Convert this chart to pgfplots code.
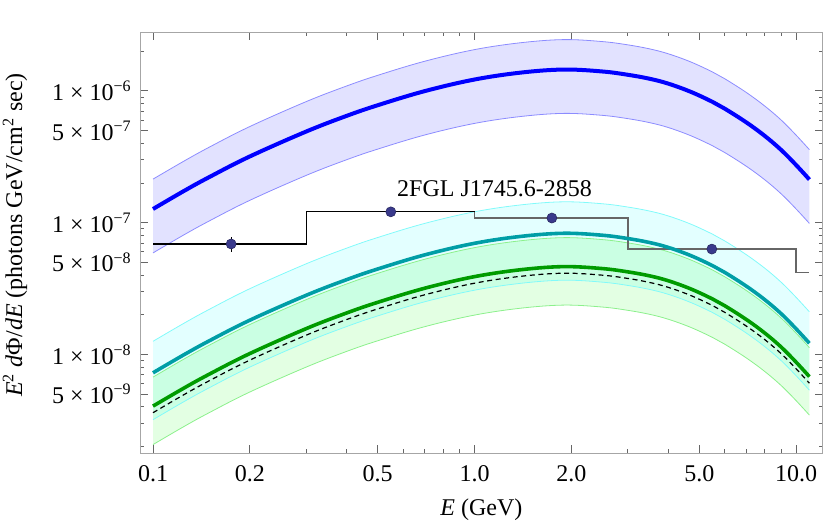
\documentclass[border=0pt]{standalone}
\usepackage{fontspec}
\setmainfont{Liberation Serif}
\usepackage{pgfplots}
\pgfplotsset{compat=1.18}
\usepackage{pgfplotstable}
\usepgfplotslibrary{fillbetween}

\definecolor{bline}{RGB}{0,0,255}
\definecolor{bedge}{RGB}{140,140,255}
\definecolor{bfill}{RGB}{226,226,255}
\definecolor{tline}{RGB}{0,158,166}
\definecolor{tedge}{RGB}{130,250,250}
\definecolor{tfill}{RGB}{0,255,255}
\definecolor{gline}{RGB}{0,155,0}
\definecolor{gedge}{RGB}{140,240,140}
\definecolor{gfill}{RGB}{0,255,0}
\definecolor{ptcol}{RGB}{58,58,140}

% E, then central/upper/lower for the blue, teal and green bands, and the dashed curve
\pgfplotstableread{
x     bc        bu        bl        tc        tu        tl        gc        gu        gl        dd
0.1   1.271e-7  2.143e-7  5.901e-8  7.261e-9  1.259e-8  3.199e-9  4.055e-9  6.730e-9  2.070e-9  3.614e-9
0.125 1.746e-7  2.942e-7  8.110e-8  9.977e-9  1.730e-8  4.395e-9  5.572e-9  9.247e-9  2.845e-9  4.966e-9
0.15  2.228e-7  3.759e-7  1.035e-7  1.274e-8  2.208e-8  5.610e-9  7.112e-9  1.180e-8  3.631e-9  6.338e-9
0.2   3.184e-7  5.370e-7  1.479e-7  1.820e-8  3.156e-8  8.018e-9  1.016e-8  1.687e-8  5.188e-9  9.058e-9
0.3   4.931e-7  8.318e-7  2.291e-7  2.818e-8  4.886e-8  1.242e-8  1.574e-8  2.612e-8  8.035e-9  1.403e-8
0.4   6.472e-7  1.091e-6  3.007e-7  3.698e-8  6.412e-8  1.629e-8  2.065e-8  3.428e-8  1.055e-8  1.841e-8
0.5   7.799e-7  1.315e-6  3.622e-7  4.457e-8  7.727e-8  1.963e-8  2.489e-8  4.131e-8  1.271e-8  2.218e-8
0.7   9.977e-7  1.682e-6  4.634e-7  5.701e-8  9.885e-8  2.512e-8  3.184e-8  5.284e-8  1.626e-8  2.838e-8
1.0   1.222e-6  2.061e-6  5.675e-7  6.982e-8  1.211e-7  3.076e-8  3.900e-8  6.471e-8  1.991e-8  3.476e-8
1.4   1.381e-6  2.328e-6  6.412e-7  7.889e-8  1.368e-7  3.475e-8  4.406e-8  7.311e-8  2.249e-8  3.927e-8
1.9   1.455e-6  2.455e-6  6.761e-7  8.318e-8  1.442e-7  3.664e-8  4.645e-8  7.709e-8  2.371e-8  4.140e-8
2.5   1.406e-6  2.371e-6  6.531e-7  8.035e-8  1.393e-7  3.540e-8  4.487e-8  7.447e-8  2.291e-8  3.999e-8
3.0   1.327e-6  2.239e-6  6.165e-7  7.585e-8  1.315e-7  3.342e-8  4.236e-8  7.031e-8  2.163e-8  3.776e-8
3.5   1.239e-6  2.089e-6  5.754e-7  7.079e-8  1.227e-7  3.119e-8  3.954e-8  6.562e-8  2.019e-8  3.524e-8
4.0   1.138e-6  1.918e-6  5.285e-7  6.501e-8  1.127e-7  2.864e-8  3.631e-8  6.025e-8  1.853e-8  3.236e-8
4.7   9.863e-7  1.663e-6  4.581e-7  5.636e-8  9.772e-8  2.483e-8  3.148e-8  5.224e-8  1.607e-8  2.806e-8
5.5   8.261e-7  1.393e-6  3.837e-7  4.720e-8  8.185e-8  2.080e-8  2.636e-8  4.375e-8  1.346e-8  2.350e-8
6.0   7.345e-7  1.239e-6  3.411e-7  4.198e-8  7.278e-8  1.850e-8  2.344e-8  3.890e-8  1.197e-8  2.089e-8
7.0   5.781e-7  9.750e-7  2.686e-7  3.304e-8  5.728e-8  1.455e-8  1.845e-8  3.062e-8  9.420e-9  1.644e-8
8.0   4.550e-7  7.672e-7  2.114e-7  2.600e-8  4.509e-8  1.145e-8  1.452e-8  2.409e-8  7.413e-9  1.294e-8
9.0   3.556e-7  6.001e-7  1.652e-7  2.033e-8  3.524e-8  8.954e-9  1.135e-8  1.883e-8  5.794e-9  1.011e-8
10.0  2.742e-7  4.624e-7  1.273e-7  1.567e-8  2.716e-8  6.902e-9  8.749e-9  1.452e-8  4.467e-9  7.798e-9
11.0  2.128e-7  3.589e-7  9.885e-8  1.217e-8  2.108e-8  5.358e-9  6.792e-9  1.127e-8  3.467e-9  6.053e-9
}\curves

% Fermi points with errors
\pgfplotstableread{
x     y         ey
0.175 6.90e-8   0.90e-8
0.549 1.21e-7   0.08e-7
1.74  1.086e-7  0.05e-7
5.47  6.31e-8   0.40e-8
}\fermi

\begin{document}
\fontsize{12}{14.4}\selectfont
\begin{tikzpicture}
\begin{loglogaxis}[
  scale only axis, width=341.4pt, height=210.5pt,
  xmin=0.0911, xmax=12.1, ymin=1.78e-9, ymax=2.79e-6,
  xtick={0.1,0.2,0.5,1,2,5,10},
  xticklabels={0.1,0.2,0.5,1.0,2.0,5.0,10.0},
  minor xtick={0.3,0.4,0.6,0.7,0.8,0.9,3,4,6,7,8,9},
  ytick={5e-9,1e-8,5e-8,1e-7,5e-7,1e-6},
  yticklabels={5 × 10\textsuperscript{−9},1 × 10\textsuperscript{−8},5 × 10\textsuperscript{−8},1 × 10\textsuperscript{−7},5 × 10\textsuperscript{−7},1 × 10\textsuperscript{−6}},
  minor ytick={2e-9,3e-9,4e-9,6e-9,7e-9,8e-9,9e-9,2e-8,3e-8,4e-8,6e-8,7e-8,8e-8,9e-8,2e-7,3e-7,4e-7,6e-7,7e-7,8e-7,9e-7,2e-6},
  tick align=inside,
  major tick length=4pt, minor tick length=2pt,
  axis line style={black!35},
  tick style={black!60, line width=0.5pt},
  xticklabel style={yshift=-2pt},
  xlabel={\textit{E} (GeV)},
  ylabel={\textit{E}\textsuperscript{2} \textit{d}Φ/\textit{dE} (photons GeV/cm\textsuperscript{2} sec)},
  xlabel style={at={(axis description cs:0.5,-0.1347)}, anchor=center},
  ylabel style={at={(axis description cs:-0.183,0.5185)}, anchor=center},
  every axis plot/.append style={tension=0.6},
]
% blue band
\addplot[name path=bu, bedge, line width=0.4pt, smooth] table[x=x,y=bu] {\curves};
\addplot[name path=bl, bedge, line width=0.4pt, smooth] table[x=x,y=bl] {\curves};
\addplot[fill=bfill, draw=none] fill between[of=bu and bl];
% teal band
\addplot[name path=tu, tedge, line width=0.4pt, smooth] table[x=x,y=tu] {\curves};
\addplot[name path=tl, tedge, line width=0.4pt, smooth] table[x=x,y=tl] {\curves};
\addplot[fill=tfill, fill opacity=0.11, draw=none] fill between[of=tu and tl];
% green band
\addplot[name path=gu, gedge, line width=0.4pt, smooth] table[x=x,y=gu] {\curves};
\addplot[name path=gl, gedge, line width=0.4pt, smooth] table[x=x,y=gl] {\curves};
\addplot[fill=gfill, fill opacity=0.11, draw=none] fill between[of=gu and gl];

% 2FGL step spectrum
\addplot[black, line width=0.6pt] coordinates {(0.1,6.9e-8) (0.3,6.9e-8) (0.3,1.21e-7) (1.0,1.21e-7)};
\addplot[black!60, line width=0.6pt] coordinates {(1.0,1.21e-7) (1.0,1.086e-7) (3.0,1.086e-7) (3.0,6.31e-8) (10,6.31e-8) (10,4.2e-8) (11,4.2e-8)};
\addplot[only marks, mark=*, mark size=2.5pt, mark options={fill=ptcol, draw=ptcol!70!black, line width=0.3pt}] table[x=x,y=y] {\fermi};
\addplot[draw=none, no markers, forget plot, error bars/.cd, y dir=both, y explicit, error mark=none, error bar style={draw=black, line width=0.6pt}] table[x=x,y=y,y error=ey] {\fermi};

% central curves
\addplot[black, line width=0.6pt, dash pattern=on 2.5pt off 1.8pt, smooth] table[x=x,y=dd] {\curves};
\addplot[gline, line width=1.8pt, smooth] table[x=x,y=gc] {\curves};
\addplot[tline, line width=1.8pt, smooth] table[x=x,y=tc] {\curves};
\addplot[bline, line width=2pt, smooth] table[x=x,y=bc] {\curves};

\node[anchor=base west, inner sep=0pt] at (axis cs:0.573,1.57e-7) {2FGL J1745.6-2858};
\end{loglogaxis}
\pgfresetboundingbox
\path (-70pt,-35.85pt) rectangle (345.05pt,226.65pt);
\end{tikzpicture}
\end{document}
